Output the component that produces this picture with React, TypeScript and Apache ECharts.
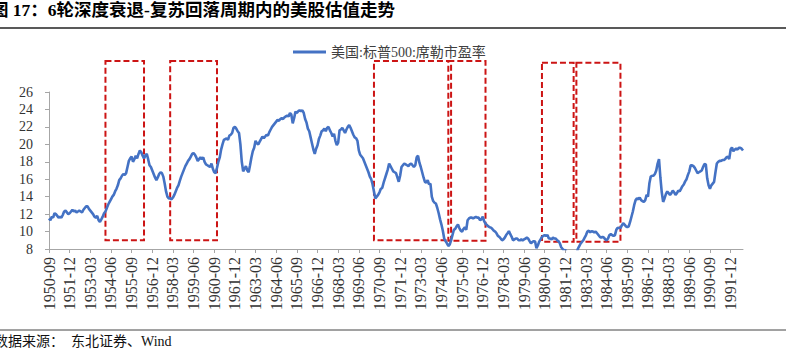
import React, { useEffect, useRef } from "react";
import * as echarts from "echarts";

const seriesName = "美国:标普500:席勒市盈率";
const startMonth = "1950-09";

// Monthly Shiller P/E values (1950-09 .. 1992-09)
const pe1950s = [
  11.5, 11.3, 11.7, 11.6,
  12.1, 12.0, 11.8, 11.6, 11.7, 11.6, 11.9, 12.3, 12.4, 12.2, 12.0, 12.1,
  12.3, 12.5, 12.3, 12.4, 12.2, 12.3, 12.4, 12.3, 12.2, 12.5, 12.7, 12.9,
  12.9, 12.6, 12.4, 12.2, 12.0, 11.7, 11.6, 11.8, 11.3, 11.1, 11.4, 11.7,
  12.1, 12.3, 12.7, 13.1, 13.4, 13.7, 14.0, 14.2, 14.6, 14.9, 15.3, 15.9,
  16.1, 16.4, 16.6, 16.5, 16.7, 17.4, 18.1, 18.4, 18.6, 18.0, 18.3, 18.7,
  18.4, 18.9, 19.3, 19.1, 18.7, 18.4, 18.7, 18.9, 18.3, 17.6, 17.4, 17.0,
  16.6, 16.2, 15.9, 16.2, 16.6, 16.8, 16.7, 16.3, 15.5, 14.6, 14.0, 13.8,
  13.8, 13.7, 13.9, 14.2, 14.6, 15.0, 15.3, 15.8, 16.3, 16.7, 17.1, 17.5,
  17.8, 18.1, 18.3, 18.6, 18.9, 19.0, 18.8, 18.5, 18.1, 18.3, 18.5, 18.3,
];
const pe1960s = [
  18.5, 18.0, 17.7, 17.6, 17.5, 17.4, 17.8, 17.2, 16.8, 16.7, 17.3, 18.0,
  18.5, 19.4, 20.0, 20.5, 20.6, 20.7, 20.5, 21.0, 21.1, 21.3, 21.9, 22.0,
  21.8, 21.5, 21.3, 20.0, 18.0, 16.9, 17.2, 17.5, 17.0, 16.8, 17.6, 18.5,
  19.2, 19.6, 20.4, 20.1, 20.0, 20.3, 20.6, 20.9, 20.7, 20.9, 21.1, 21.0,
  21.4, 21.7, 22.0, 22.2, 22.4, 22.6, 22.8, 22.7, 22.9, 23.0, 22.9, 23.1,
  23.2, 23.3, 23.2, 23.6, 23.4, 22.4, 23.0, 23.75, 23.6, 23.8, 23.9, 23.8,
  23.9, 23.6, 22.9, 22.5, 21.8, 21.5, 20.8, 20.1, 19.4, 18.9, 19.5, 19.9,
  20.6, 21.0, 21.5, 21.6, 21.8, 21.5, 21.9, 22.0, 21.6, 21.3, 20.9, 21.2,
  20.4, 19.9, 20.2, 21.6, 21.7, 21.9, 21.6, 21.3, 21.7, 22.0, 22.2, 21.9,
  21.5, 21.1, 20.8, 20.7, 20.4, 19.3, 18.8, 18.6, 18.4, 18.0, 17.6, 17.2,
];
const pe1970s = [
  16.8, 16.3, 16.0, 15.4, 14.6, 13.8, 14.0, 14.2, 14.5, 14.9, 15.0, 15.6,
  16.1, 16.6, 17.1, 17.8, 17.5, 17.2, 16.9, 16.8, 16.7, 16.2, 15.7, 16.4,
  17.4, 17.6, 17.8, 17.7, 17.6, 17.5, 17.7, 17.8, 17.6, 17.4, 17.6, 18.5,
  18.7, 17.9, 17.4, 16.8, 16.2, 15.7, 15.6, 15.9, 15.4, 15.5, 14.0, 13.5,
  13.3, 13.2, 12.7, 12.1, 11.4, 10.8, 10.1, 9.2, 8.9, 8.65, 8.35, 8.5,
  9.0, 9.6, 10.2, 10.3, 10.6, 10.8, 10.4, 10.1, 10.0, 10.3, 10.5, 10.2,
  11.3, 11.5, 11.6, 11.6, 11.5, 11.6, 11.7, 11.6, 11.6, 11.3, 11.4, 11.7,
  11.2, 10.9, 10.75, 10.6, 10.5, 10.45, 10.3, 10.1, 10.0, 9.8, 9.5, 9.4,
  9.2, 9.0, 9.1, 9.3, 9.6, 9.8, 10.05, 9.7, 9.4, 9.0, 9.1, 9.2,
  9.2, 9.0, 9.0, 9.1, 9.0, 9.1, 9.2, 9.3, 9.2, 8.9, 8.65, 8.8,
];
const pe1980s = [
  8.9, 8.85, 8.1, 8.4, 8.85, 9.1, 9.4, 9.5, 9.6, 9.5, 9.6, 9.2,
  9.2, 9.1, 9.3, 9.2, 9.2, 9.0, 8.9, 8.65, 8.2, 8.0, 7.8, 7.9,
  7.6, 7.3, 7.1, 7.3, 7.4, 7.1, 6.9, 7.3, 8.0, 8.3, 8.6, 8.8,
  9.0, 9.3, 9.6, 10.0, 10.1, 9.9, 10.05, 10.0, 9.9, 10.0, 9.8, 9.6,
  9.4, 9.3, 9.4, 9.3, 9.1, 9.0, 9.2, 9.6, 9.7, 9.6, 9.5, 9.6,
  10.2, 10.45, 10.4, 10.4, 10.7, 10.95, 10.8, 10.6, 10.5, 10.6, 11.1, 11.7,
  12.3, 13.05, 13.6, 13.8, 13.7, 13.9, 13.6, 13.5, 13.4, 13.6, 14.2, 14.0,
  15.5, 16.3, 16.4, 16.4, 16.6, 17.0, 17.8, 18.3, 16.2, 14.5, 13.4, 13.8,
  14.3, 14.6, 14.4, 14.2, 14.4, 14.7, 14.5, 14.2, 14.4, 14.7, 14.6, 14.9,
  15.2, 15.4, 15.75, 16.0, 16.5, 16.9, 17.6, 17.6, 17.5, 17.3, 17.0, 16.7,
];
const pe1990s = [
  16.8, 16.9, 17.0, 17.4, 17.75, 17.7, 16.1, 15.3, 14.9, 15.3, 15.5, 15.7,
  16.8, 17.8, 18.0, 18.1, 18.1, 18.2, 18.2, 18.3, 18.5, 18.6, 18.3, 19.4,
  19.65, 19.2, 19.4, 19.5, 19.4, 19.6, 19.6, 19.5, 19.3,
];
const peValues = [...pe1950s, ...pe1960s, ...pe1970s, ...pe1980s, ...pe1990s];

// y axis
const yMin = 8;
const yMax = 26;
const yStep = 2;
const xLabelEvery = 15;

// recession-recovery boxes
const boxStarts = ["1954-02", "1958-01", "1970-05", "1974-11", "1980-07", "1982-08"];
const boxEnds = ["1956-06", "1960-11", "1975-01", "1977-02", "1982-06", "1985-04"];
const boxTops = [29.56, 29.56, 29.56, 29.56, 29.36, 29.36];
const boxBottoms = [9.0, 9.0, 9.0, 8.95, 8.84, 8.84];

const titleText = "图 17：6轮深度衰退-复苏回落周期内的美股估值走势";
const sourceText = "数据来源：　东北证券、Wind";

function buildMonths(start: string, count: number): string[] {
  const [y0, m0] = start.split("-").map(Number);
  const base = y0 * 12 + (m0 - 1);
  const out: string[] = [];
  for (let i = 0; i < count; i++) {
    const t = base + i;
    const y = Math.floor(t / 12);
    const m = (t % 12) + 1;
    out.push(`${y}-${String(m).padStart(2, "0")}`);
  }
  return out;
}
const months = buildMonths(startMonth, peValues.length);

const serif = "'Liberation Serif', 'Noto Sans CJK SC', serif";

export default function App() {
  const ref = useRef<HTMLDivElement>(null);
  useEffect(() => {
    if (!ref.current) return;
    const chart = echarts.init(ref.current, null, { renderer: "svg" });
    const option: any = {
      animation: false,
      backgroundColor: "#ffffff",
      legend: {
        data: [{ name: seriesName, icon: "rect" }],
        left: 288,
        top: 40,
        itemWidth: 33,
        itemHeight: 3,
        textStyle: { fontSize: 14, color: "#404040", fontFamily: serif },
      },
      grid: { left: 49, right: 51, top: 92, bottom: 100, containLabel: false, outerBoundsMode: "none" },
      xAxis: {
        type: "category",
        data: months,
        boundaryGap: false,
        axisLine: { show: true, lineStyle: { color: "#a6a6a6", width: 1 } },
        axisTick: { show: true, interval: xLabelEvery - 1, length: 4, lineStyle: { color: "#a6a6a6" } },
        axisLabel: {
          interval: xLabelEvery - 1,
          rotate: 90,
          margin: 8,
          fontSize: 16,
          color: "#333333",
          fontFamily: serif,
        },
        splitLine: { show: false },
      },
      yAxis: {
        type: "value",
        min: yMin,
        max: yMax,
        interval: yStep,
        axisLine: { show: true, lineStyle: { color: "#a6a6a6", width: 1 } },
        axisTick: { show: true, length: 4, lineStyle: { color: "#a6a6a6" } },
        axisLabel: { fontSize: 14, color: "#333333", fontFamily: serif, margin: 16 },
        splitLine: { show: false },
      },
      series: [
        {
          name: seriesName,
          type: "line",
          data: peValues,
          symbol: "none",
          z: 3,
          lineStyle: { color: "#4472C4", width: 2.6 },
          itemStyle: { color: "#4472C4" },
        },
      ],
    };
    chart.setOption(option);

    const rects = boxStarts.map((s, i) => {
      const x1 = chart.convertToPixel({ xAxisIndex: 0 }, months.indexOf(s)) as number;
      const x2 = chart.convertToPixel({ xAxisIndex: 0 }, months.indexOf(boxEnds[i])) as number;
      const y1 = chart.convertToPixel({ yAxisIndex: 0 }, boxTops[i]) as number;
      const y2 = chart.convertToPixel({ yAxisIndex: 0 }, boxBottoms[i]) as number;
      return {
        type: "rect",
        silent: true,
        z: 1,
        shape: { x: x1, y: y1, width: x2 - x1, height: y2 - y1 },
        style: { fill: "none", stroke: "#CC1414", lineWidth: 2, lineDash: [6, 3] },
      };
    });

    const decor = [
      {
        type: "text",
        x: -9,
        y: 10,
        silent: true,
        style: {
          text: titleText,
          fontSize: 17.5,
          fontWeight: "bold",
          fontFamily: serif,
          fill: "#000000",
          verticalAlign: "middle",
          align: "left",
        },
      },
      {
        type: "line",
        silent: true,
        shape: { x1: 0, y1: 28, x2: 786, y2: 28 },
        style: { stroke: "#222222", lineWidth: 1.3 },
      },
      {
        type: "line",
        silent: true,
        shape: { x1: 0, y1: 330, x2: 786, y2: 330 },
        style: { stroke: "#444444", lineWidth: 1 },
      },
      {
        type: "text",
        x: -6,
        y: 341,
        silent: true,
        style: {
          text: sourceText,
          fontSize: 14,
          fontFamily: serif,
          fill: "#111111",
          verticalAlign: "middle",
          align: "left",
        },
      },
    ];

    chart.setOption({ graphic: [...decor, ...rects] });
    return () => chart.dispose();
  }, []);
  return (
    <div
      ref={ref}
      style={{ position: "fixed", left: 0, top: 0, width: 794, height: 349, background: "#fff" }}
    />
  );
}
